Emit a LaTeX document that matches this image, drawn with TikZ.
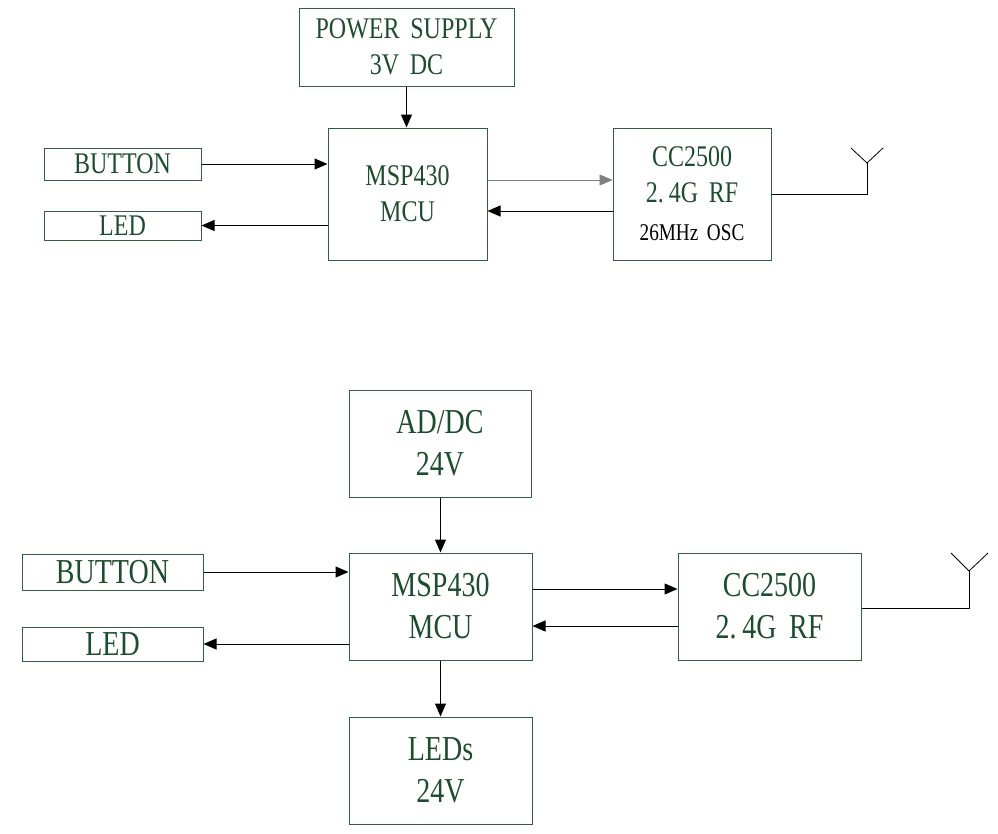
\documentclass[tikz,border=0pt]{standalone}
\usepackage{fontspec}
\setmainfont{Liberation Serif}[FakeStretch=0.8, WordSpace=1.8]
\usetikzlibrary{arrows.meta}
\definecolor{boxline}{RGB}{52,92,64}
\definecolor{boxtext}{RGB}{30,76,46}
\begin{document}
\begin{tikzpicture}[x=1pt, y=-1pt,
	blk/.style={draw=boxline, line width=1pt, inner sep=0pt, align=center, text=boxtext},
	small/.style={font=\fontsize{30}{36}\selectfont},
	big/.style={font=\fontsize{35}{42}\selectfont},
	sig/.style={line width=1pt, -{Triangle[length=13pt,width=11pt]}},
	ant/.style={line width=1pt}]
	\useasboundingbox (0,0) rectangle (998,833);

	% remote with coin cell
	\node[blk, small, minimum width=215pt, minimum height=78pt] (pwr) at (406.5,47) {POWER SUPPLY\\3V DC};
	\node[blk, small, minimum width=159pt, minimum height=132pt] (msp) at (407.5,194) {MSP430\\MCU};
	\node[blk, small, minimum width=158pt, minimum height=132pt] (cc) at (692,194)
		{CC2500\\2.\,4G RF\\[2pt]{\fontsize{24}{28}\selectfont\color{black}26MHz OSC}};
	\node[blk, small, minimum width=157pt, minimum height=32pt] (btn) at (122.5,164) {BUTTON};
	\node[blk, small, minimum width=157pt, minimum height=29pt] (led) at (122.5,225.5) {LED};
	\coordinate (ant) at (867,163);

	\draw[sig] (pwr.south) -- (pwr.south |- msp.north);
	\draw[sig] (btn.east) -- (btn.east -| msp.west);
	\draw[sig] (led.east -| msp.west) -- (led.east);
	\draw[sig, line width=0.7pt, draw=gray] ([yshift=14pt]msp.east) -- ([yshift=14pt]cc.west);
	\draw[sig] ([yshift=-17pt]cc.west) -- ([yshift=-17pt]msp.east);
	\draw[ant] (cc.east) -- (cc.east -| ant) -- (ant);
	\draw[ant, line width=0.8pt] (ant) -- ++(-16,-15) (ant) -- ++(16,-15);

	% lamp with 24V supply
	\node[blk, big, minimum width=182pt, minimum height=107pt] (adc) at (440,443.5) {AD/DC\\24V};
	\node[blk, big, minimum width=183pt, minimum height=107pt] (msp2) at (440.5,606.5) {MSP430\\MCU};
	\node[blk, big, minimum width=183pt, minimum height=107pt] (leds) at (440.5,770.5) {LEDs\\24V};
	\node[blk, big, minimum width=183pt, minimum height=107pt] (cc2) at (769.5,606.5) {CC2500\\2.\,4G RF};
	\node[blk, big, minimum width=181pt, minimum height=36pt] (btn2) at (112.5,572) {BUTTON};
	\node[blk, big, minimum width=181pt, minimum height=34pt] (led2) at (112.5,644) {LED};
	\coordinate (ant2) at (969,571);

	\draw[sig] (adc.south -| msp2.north) -- (msp2.north);
	\draw[sig] (msp2.south) -- (leds.north);
	\draw[sig] (btn2.east) -- (btn2.east -| msp2.west);
	\draw[sig] (led2.east -| msp2.west) -- (led2.east);
	\draw[sig] ([yshift=17.5pt]msp2.east) -- ([yshift=17.5pt]cc2.west);
	\draw[sig] ([yshift=-19.5pt]cc2.west) -- ([yshift=-19.5pt]msp2.east);
	\draw[ant] ([yshift=-1.5pt]cc2.east) -- ([yshift=-1.5pt]cc2.east -| ant2) -- (ant2);
	\draw[ant, line width=0.8pt] (ant2) -- ++(-18,-18) (ant2) -- ++(19,-18);
\end{tikzpicture}
\end{document}
